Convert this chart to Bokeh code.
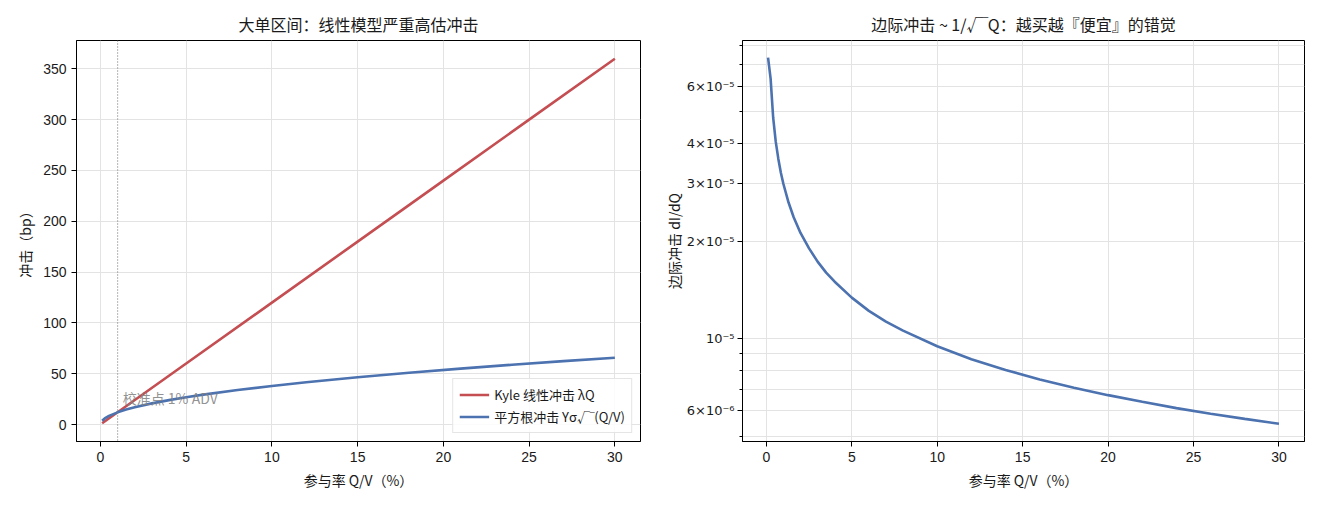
from bokeh.plotting import figure
from bokeh.layouts import row
from bokeh.models import Range1d, FixedTicker, Span, Label, Legend, LegendItem
from bokeh.embed import file_html
from bokeh.resources import INLINE

# ---- data ----
q_linear = [0.1, 5, 10, 15, 20, 25, 30]
impact_linear = [1.2, 60, 120, 180, 240, 300, 360]

q_sqrt = [0.1, 0.25, 0.5, 1, 1.5, 2, 3, 4, 5, 6, 8, 10, 12, 15, 18, 21, 24, 27, 30]
impact_sqrt = [3.8, 6.0, 8.5, 12.0, 14.7, 17.0, 20.8, 24.0, 26.8, 29.4, 33.9,
               37.9, 41.6, 46.5, 50.9, 55.0, 58.8, 62.4, 65.7]

q_marg = [0.1, 0.25, 0.4, 0.55, 0.7, 0.85, 1.0, 1.3, 1.6, 2.0, 2.5, 3.0, 3.5,
          4.0, 5.0, 6.0, 7.0, 8.0, 10, 12, 14, 16, 18, 20, 22, 24, 26, 28, 30]
marg_impact = [7.35e-5, 6.33e-5, 4.80e-5, 4.05e-5, 3.59e-5, 3.25e-5, 3.00e-5,
               2.63e-5, 2.37e-5, 2.12e-5, 1.90e-5, 1.73e-5, 1.60e-5, 1.50e-5,
               1.34e-5, 1.22e-5, 1.13e-5, 1.06e-5, 9.49e-6, 8.66e-6, 8.02e-6,
               7.50e-6, 7.07e-6, 6.71e-6, 6.40e-6, 6.12e-6, 5.88e-6, 5.67e-6, 5.48e-6]

x_ticks = [0, 5, 10, 15, 20, 25, 30]
left_y_ticks = [0, 50, 100, 150, 200, 250, 300, 350]
right_major = [6e-6, 1e-5, 2e-5, 3e-5, 4e-5, 6e-5]
right_major_labels = ["6×10⁻⁶", "10⁻⁵", "2×10⁻⁵", "3×10⁻⁵", "4×10⁻⁵", "6×10⁻⁵"]
right_minor = [5e-6, 7e-6, 8e-6, 9e-6, 5e-5, 7e-5, 8e-5]

RED = "#c44e52"
BLUE = "#4c72b0"
CJK = "Noto Sans CJK SC"
LAT = "Liberation Sans"
GRID = "#e3e3e3"
INK = "#1a1a1a"


def style(p):
    p.title.text_font = CJK
    p.title.text_font_size = "16px"
    p.title.text_font_style = "normal"
    p.title.text_color = INK
    p.title.align = "center"
    p.outline_line_color = "black"
    p.outline_line_width = 1
    p.background_fill_color = "white"
    p.border_fill_color = "white"
    for ax in (p.xaxis[0], p.yaxis[0]):
        ax.axis_label_text_font = CJK
        ax.axis_label_text_font_size = "14px"
        ax.axis_label_text_font_style = "normal"
        ax.axis_label_text_color = INK
        ax.major_label_text_font = LAT
        ax.major_label_text_font_size = "14px"
        ax.major_label_text_color = INK
        ax.major_tick_out = 5
        ax.major_tick_in = 0
        ax.minor_tick_out = 3
        ax.minor_tick_in = 0
        ax.axis_line_color = "black"
        ax.major_tick_line_color = "black"
        ax.minor_tick_line_color = "black"
    p.xgrid.grid_line_color = GRID
    p.ygrid.grid_line_color = GRID


# ---- left panel ----
p1 = figure(width=660, height=505, output_backend="svg", toolbar_location=None,
            x_range=Range1d(-1.395, 31.495), y_range=Range1d(-16.7, 377.9),
            title="大单区间：线性模型严重高估冲击",
            min_border_left=76, min_border_right=20, min_border_top=40, min_border_bottom=64)
style(p1)
p1.xaxis.ticker = FixedTicker(ticks=x_ticks)
p1.yaxis.ticker = FixedTicker(ticks=left_y_ticks)
p1.xaxis.axis_label = "参与率 Q/V（%）"
p1.yaxis.axis_label = "冲击（bp）"
p1.xaxis.minor_tick_line_color = None
p1.yaxis.minor_tick_line_color = None

r_lin = p1.line(q_linear, impact_linear, line_color=RED, line_width=2.6)
r_sqrt = p1.line(q_sqrt, impact_sqrt, line_color=BLUE, line_width=2.6)

p1.add_layout(Span(location=1, dimension="height", line_color="gray",
                   line_dash="1 2", line_width=1.2))
p1.add_layout(Label(x=1.3, y=16, text="校准点 1% ADV", text_color="gray",
                    text_alpha=0.85, text_font=CJK, text_font_size="14px",
                    text_baseline="bottom"))

legend = Legend(items=[LegendItem(label="Kyle 线性冲击 λQ", renderers=[r_lin]),
                       LegendItem(label="平方根冲击 Yσ√‾(Q/V)", renderers=[r_sqrt])],
                location="bottom_right")
legend.label_text_font = CJK
legend.label_text_font_size = "13px"
legend.label_text_color = INK
legend.border_line_color = "#cccccc"
legend.border_line_width = 1
legend.background_fill_alpha = 0.85
legend.glyph_width = 30
legend.spacing = 3
legend.padding = 6
legend.margin = 8
legend.label_height = 17
legend.glyph_height = 17
p1.add_layout(legend)

# ---- right panel ----
p2 = figure(width=660, height=505, output_backend="svg", toolbar_location=None,
            y_axis_type="log",
            x_range=Range1d(-1.395, 31.495), y_range=Range1d(4.83e-6, 8.3e-5),
            title="边际冲击 ~ 1/√‾Q：越买越『便宜』的错觉",
            min_border_left=81, min_border_right=16, min_border_top=40, min_border_bottom=64)
style(p2)
p2.xaxis.ticker = FixedTicker(ticks=x_ticks)
p2.xaxis.minor_tick_line_color = None
p2.yaxis.ticker = FixedTicker(ticks=right_major, minor_ticks=right_minor)
p2.yaxis.major_label_overrides = {t: s for t, s in zip(right_major, right_major_labels)}
p2.yaxis.major_label_text_font = "DejaVu Sans"
p2.yaxis.major_label_text_font_size = "13px"
p2.yaxis.major_label_standoff = 3
p2.ygrid.minor_grid_line_color = GRID
p2.xaxis.axis_label = "参与率 Q/V（%）"
p2.yaxis.axis_label = "边际冲击 dI/dQ"
p2.yaxis.axis_label_standoff = 0

p2.line(q_marg, marg_impact, line_color=BLUE, line_width=2.6)

layout = row(p1, p2)
open("out.html", "w").write(file_html(layout, INLINE))
